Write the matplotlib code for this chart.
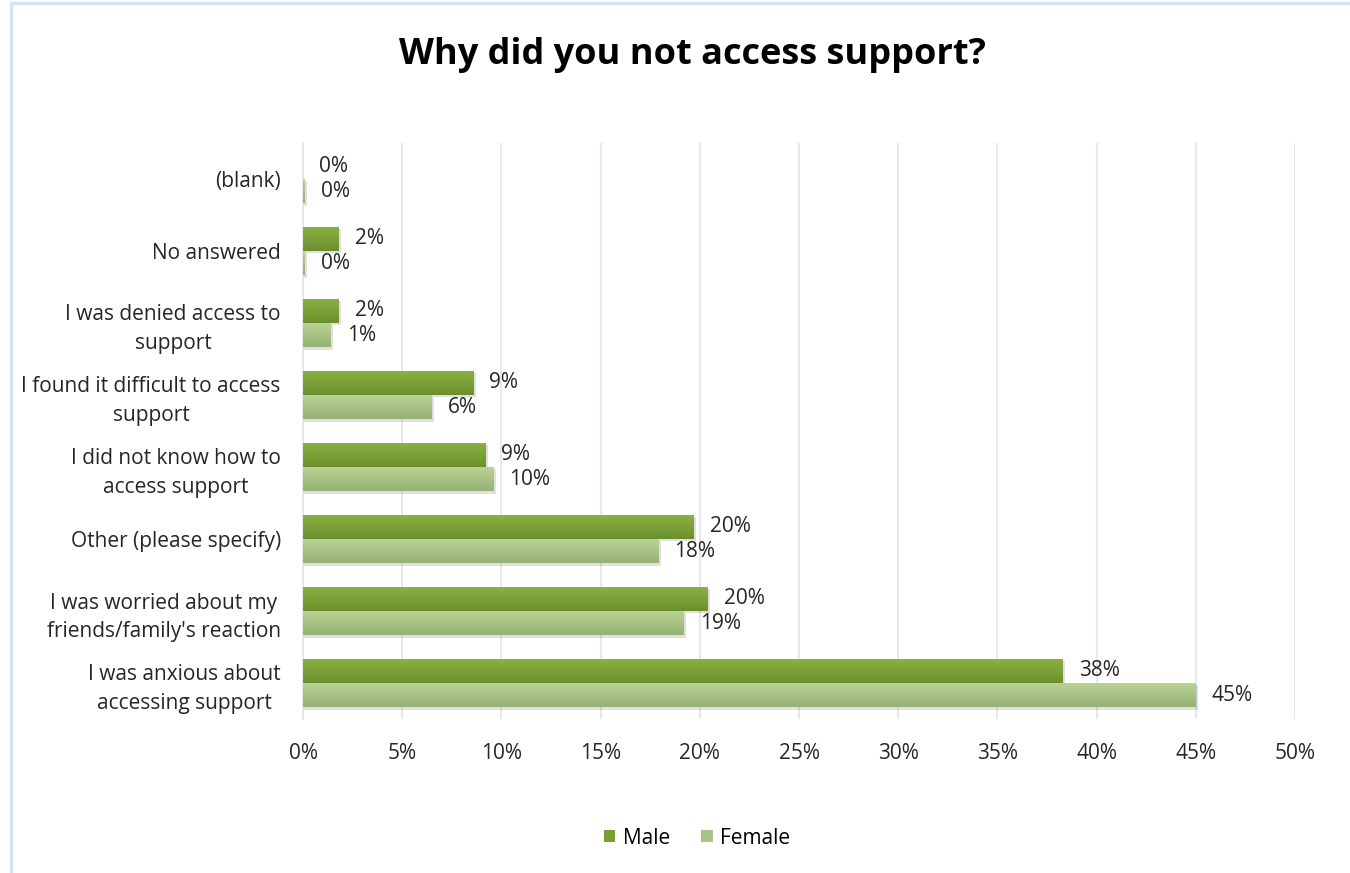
import matplotlib
matplotlib.use("Agg")
import matplotlib.pyplot as plt
import numpy as np
from matplotlib.patches import Rectangle, Patch
from matplotlib.colors import LinearSegmentedColormap

plt.rcParams['font.family'] = ['Open Sans', 'DejaVu Sans']

categories = [
    "I was anxious about\naccessing support",
    "I was worried about my\nfriends/family's reaction",
    "Other (please specify)",
    "I did not know how to\naccess support",
    "I found it difficult to access\nsupport",
    "I was denied access to\nsupport",
    "No answered",
    "(blank)",
]
male = [38.3, 20.4, 19.7, 9.2, 8.6, 1.8, 1.8, 0.0]
female = [45.0, 19.2, 17.9, 9.6, 6.5, 1.4, 0.1, 0.1]
series_names = ["Male", "Female"]
xticks = [0, 5, 10, 15, 20, 25, 30, 35, 40, 45, 50]

male_top, male_bot = "#8cb244", "#6a902e"
fem_top, fem_bot = "#bcd596", "#95b174"
male_solid = "#78a035"
fem_solid = "#a9c585"
text_col = "#262626"

fig = plt.figure(figsize=(13.5, 8.73), dpi=100)
fig.patch.set_facecolor("white")

# light blue chart frame
fig.patches.append(Rectangle((11 / 1350, -0.1), 1.2, 1.1 - 3 / 873,
                             transform=fig.transFigure, fill=False,
                             edgecolor="#d6e3f5", linewidth=2.5, zorder=0))

ax = fig.add_axes([303 / 1350, 1 - 719 / 873, (1295 - 303) / 1350, (719 - 143) / 873])

h = 0.34
y = np.arange(len(categories))


def gradient_bar(yc, width, c_top, c_bot):
    bar = ax.barh(yc, width, height=h, color="none", edgecolor="none", zorder=3)[0]
    if width <= 0:
        return
    # soft drop shadow
    ax.add_patch(Rectangle((0, yc - h / 2 - 0.03), width + 0.12, h,
                           facecolor="#000000", alpha=0.12, edgecolor="none", zorder=2))
    cmap = LinearSegmentedColormap.from_list("g", [c_bot, c_top])
    grad = np.linspace(0, 1, 64).reshape(-1, 1)
    im = ax.imshow(grad, cmap=cmap, aspect="auto", origin="lower",
                   extent=(0, width, yc - h / 2, yc + h / 2), zorder=3,
                   interpolation="bilinear")
    im.set_clip_path(bar)


for i in range(len(categories)):
    gradient_bar(y[i] + h / 2, male[i], male_top, male_bot)
    gradient_bar(y[i] - h / 2, female[i], fem_top, fem_bot)
    ax.text(male[i] + 0.8, y[i] + h / 2, f"{male[i]:.0f}%", va="center", ha="left",
            fontsize=15, color=text_col, zorder=5)
    ax.text(female[i] + 0.8, y[i] - h / 2, f"{female[i]:.0f}%", va="center", ha="left",
            fontsize=15, color=text_col, zorder=5)

ax.set_xlim(0, 50)
ax.set_ylim(-0.5, len(categories) - 0.5)
ax.set_xticks(xticks)
ax.set_xticklabels([f"{t}%" for t in xticks], fontsize=15, color=text_col)
ax.set_yticks(y)
ax.set_yticklabels(categories, fontsize=15, color=text_col, linespacing=1.45,
                   ha="right", multialignment="center")
ax.tick_params(axis="y", length=0, pad=16)
ax.tick_params(axis="x", length=0, pad=17)
ax.grid(axis="x", color="#dbe5f1", linewidth=1.2, zorder=0)
ax.set_axisbelow(True)
for s in ["top", "right", "bottom"]:
    ax.spines[s].set_visible(False)
ax.spines["left"].set_color("#dbe5f1")
ax.spines["left"].set_linewidth(1.2)

fig.text(692 / 1350, 1 - 55 / 873, "Why did you not access support?", ha="center", va="center",
         fontsize=26, fontweight="bold", color="black")

handles = [Patch(facecolor=male_solid, edgecolor="none"),
           Patch(facecolor=fem_solid, edgecolor="none")]
fig.legend(handles, series_names, loc="center", bbox_to_anchor=(697 / 1350, 1 - 838 / 873),
           ncol=2, frameon=False, fontsize=15, handlelength=0.55, handleheight=0.55,
           handletextpad=0.35, columnspacing=1.5)

fig.savefig("out.png", dpi=100, facecolor="white")
